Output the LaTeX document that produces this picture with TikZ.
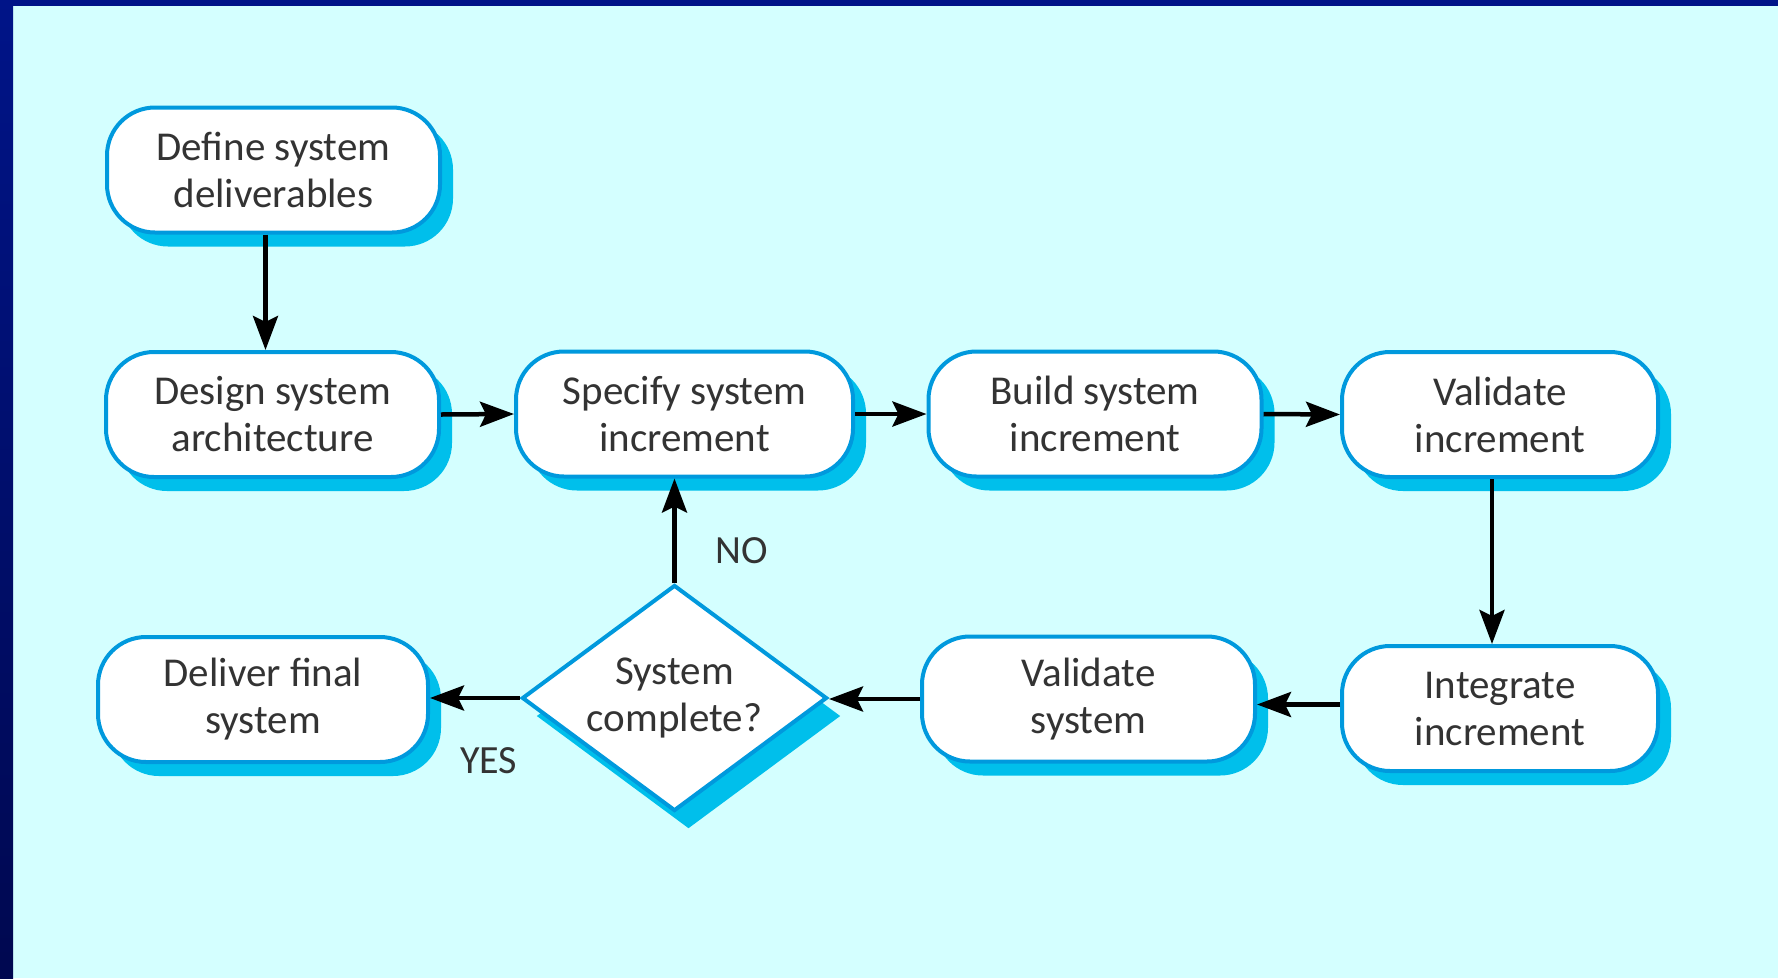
\documentclass[tikz,border=0pt]{standalone}
\usepackage{fontspec}
\setmainfont{Carlito}
\usetikzlibrary{shapes.geometric,shadows,arrows.meta}
\definecolor{bgc}{HTML}{D4FFFF}
\definecolor{bordc}{HTML}{0099DD}
\definecolor{shadc}{HTML}{00BFEB}
\definecolor{barc}{HTML}{001488}
\definecolor{bardark}{HTML}{000850}
\definecolor{txtc}{HTML}{333333}
\tikzset{
  stepbox/.style={draw=bordc, line width=4pt, fill=white, rounded corners=48pt,
    minimum width=333pt, minimum height=125pt, align=center, text=txtc,
    font=\fontsize{41}{47}\selectfont, inner sep=0pt,
    general shadow={fill=shadc, shadow xshift=13pt, shadow yshift=-14pt}},
  decision/.style={draw=bordc, line width=4pt, fill=white, shape=diamond, aspect=1.4,
    minimum width=305pt, minimum height=226pt, inner sep=0pt, align=center, text=txtc,
    font=\fontsize{41}{47}\selectfont,
    general shadow={fill=shadc, shadow xshift=14pt, shadow yshift=-18pt}},
  arr/.style={line width=4.5pt, black, -{Stealth[length=34pt,width=25pt,inset=6pt]}},
  lbl/.style={anchor=base west, text=txtc, font=\fontsize{40}{48}\selectfont, inner sep=0pt}
}
\begin{document}
\begin{tikzpicture}[x=1pt,y=-1pt]
\useasboundingbox (0,0) rectangle (1778,978);
\fill[bgc] (0,0) rectangle (1778,978);
\fill[barc] (0,0) rectangle (1778,6);
\shade[top color=barc, bottom color=bardark] (0,0) rectangle (13,978);

\node[stepbox] (def)   at (273.5,170) {Define system\\deliverables};
\node[stepbox] (des)   at (272.5,414.5) {Design system\\architecture};
\node[stepbox, minimum width=337pt] (spec)  at (684.5,414) {Specify system\\increment};
\node[stepbox] (build) at (1095,414) {Build system\\increment};
\node[stepbox, minimum width=316pt] (vinc)  at (1500,414.5) {Validate\\increment};
\node[stepbox, minimum width=316pt] (int)   at (1500,708.5) {Integrate\\increment};
\node[stepbox] (vsys)  at (1088.5,699) {Validate\\system};
\node[stepbox, minimum width=330pt] (del)   at (263,699.5) {Deliver final\\system};
\node[decision] (dia)  at (674.5,698) {System\\complete?};

\node[lbl] (no)  at (715,563) {NO};
\node[lbl] (yes) at (460,773) {YES};

\draw[arr] ([xshift=-8pt]def.south) -- ([xshift=-8pt]def.south |- des.north);
\draw[arr] (des.east) -- (spec.west);
\draw[arr] (spec.east) -- (build.west);
\draw[arr] (build.east) -- (vinc.west);
\draw[arr] ([xshift=-8pt]vinc.south) -- ([xshift=-8pt]vinc.south |- int.north);
\draw[arr] ([yshift=4pt]int.west) -- ([yshift=4pt]int.west -| vsys.east);
\draw[arr] (vsys.west) -- (vsys.west -| dia.east);
\draw[arr] (dia.west) -- (dia.west -| del.east);
\draw[arr] (dia.north) -- (dia.north |- spec.south);
\end{tikzpicture}
\end{document}
